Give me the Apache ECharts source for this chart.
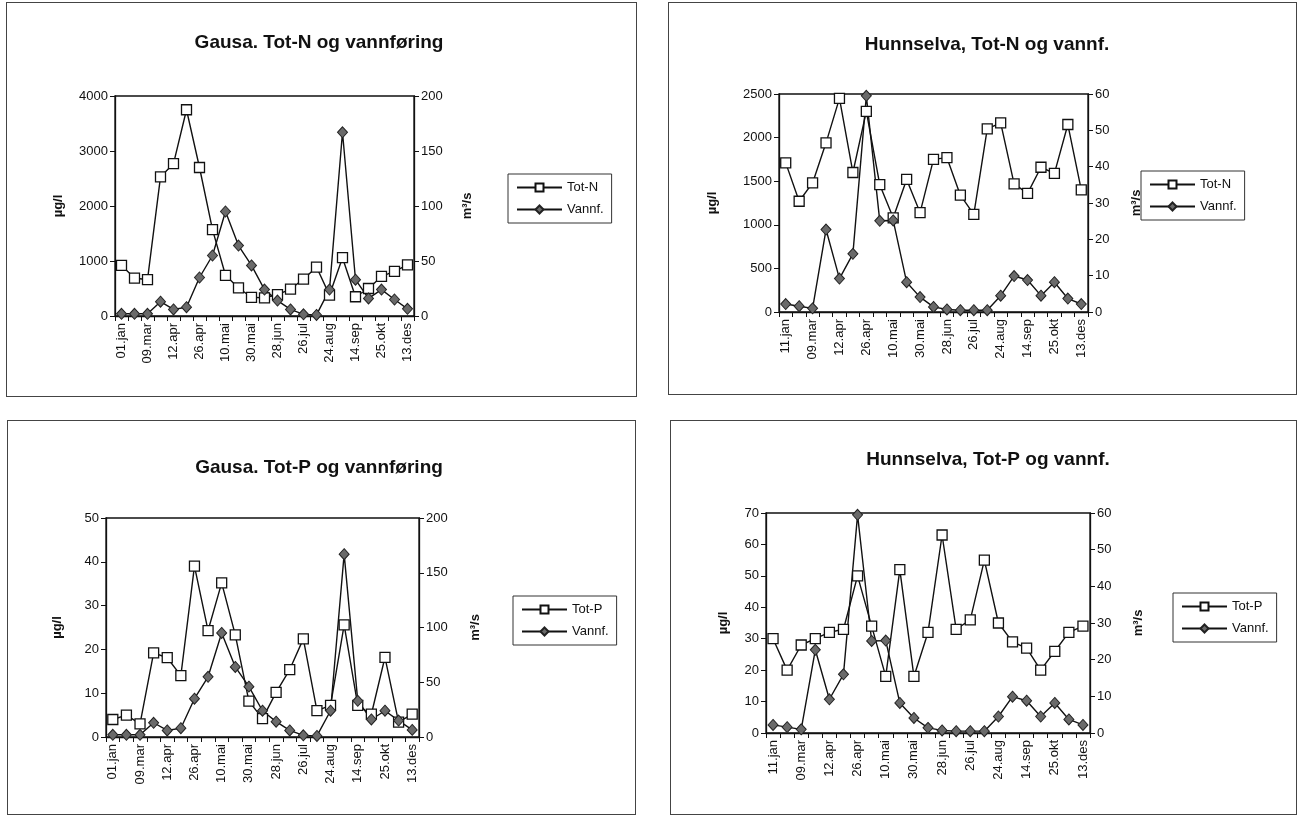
<!DOCTYPE html>
<html>
<head>
<meta charset="utf-8">
<script src="https://cdn.jsdelivr.net/npm/echarts@6/dist/echarts.min.js"></script>
<style>
    html, body {margin:0;padding:0;background:#fff;}
    body {width:1298px;height:819px;position:relative;overflow:hidden;}
    .box {position:absolute;border:1px solid #444;box-sizing:border-box;background:#fff;}
</style>
</head>
<body>
<div class="box" id="c1" style="left:6px;top:2px;width:631px;height:395px;"></div>
<div class="box" id="c2" style="left:668px;top:2px;width:629px;height:393px;"></div>
<div class="box" id="c3" style="left:7px;top:420px;width:629px;height:395px;"></div>
<div class="box" id="c4" style="left:670px;top:420px;width:627px;height:395px;"></div>
<script>
    // sampling dates (only every other one is labelled on the axis)
    var gausaDates = ['01.jan','08.feb','09.mar','29.mar','12.apr','19.apr','26.apr','03.mai','10.mai','17.mai','30.mai','13.jun',
        '28.jun','12.jul','26.jul','09.aug','24.aug','31.aug','14.sep','28.sep','25.okt','08.nov','13.des'];
    var hunnDates = ['11.jan','08.feb','09.mar','29.mar','12.apr','19.apr','26.apr','03.mai','10.mai','17.mai','30.mai','13.jun',
        '28.jun','12.jul','26.jul','09.aug','24.aug','31.aug','14.sep','28.sep','25.okt','08.nov','13.des'];

    // Gausa
    var gausaTotN = [920, 690, 660, 2530, 2770, 3750, 2700, 1570, 740, 510, 340, 330, 390, 490, 670, 890, 380, 1060, 350, 500, 720, 810, 930];
    var gausaTotP = [4, 5, 3, 19.2, 18.1, 14, 39, 24.3, 35.2, 23.3, 8.2, 4.2, 10.2, 15.4, 22.4, 6, 7.2, 25.6, 7.2, 5.2, 18.2, 3.4, 5.2];
    var gausaVannf = [2, 2, 2, 13, 6, 8, 35, 55, 95, 64, 46, 24, 14, 6, 1.5, 1, 24, 167, 33, 16, 24, 15, 6.5];

    // Hunnselva
    var hunnTotN = [1710, 1270, 1480, 1940, 2450, 1600, 2300, 1460, 1080, 1520, 1140, 1750, 1770, 1340, 1120, 2100, 2170, 1470, 1360, 1660, 1590, 2150, 1400];
    var hunnTotP = [30, 20, 28, 30, 32, 33, 50, 34, 18, 52, 18, 32, 63, 33, 36, 55, 35, 29, 27, 20, 26, 32, 34];
    var hunnVannf = [2.2, 1.6, 1, 22.7, 9.2, 16, 59.5, 25.1, 25.2, 8.2, 4.1, 1.4, 0.7, 0.5, 0.5, 0.5, 4.5, 9.9, 8.8, 4.5, 8.2, 3.7, 2.2];

    var FONT = '"Liberation Sans", Arial, sans-serif';

    function yAxis(max, interval, name, gap) {
        return {
            type: 'value', min: 0, max: max, interval: interval,
            name: name, nameLocation: 'middle', nameRotate: 90, nameGap: gap,
            nameTextStyle: {color: '#111', fontSize: 13, fontWeight: 'bold', fontFamily: FONT},
            axisLine: {show: true, lineStyle: {color: '#111', width: 1.3}},
            axisTick: {show: true, inside: false, length: 5, lineStyle: {color: '#111'}},
            splitLine: {show: false},
            axisLabel: {color: '#111', fontSize: 13, fontFamily: FONT, margin: 7,
                formatter: function (v) { return String(v); }}
        };
    }

    // p: grid (page coords), legend pos, title pos
    function makeChart(id, p) {
        var el = document.getElementById(id);
        var bx = el.offsetLeft, by = el.offsetTop;
        var chart = echarts.init(el);
        var option = {
            animation: false,
            title: {
                text: p.title, left: p.titleX - bx, textAlign: 'center', top: p.titleY - by - 15,
                textStyle: {fontSize: 19, fontWeight: 'bold', color: '#111', fontFamily: FONT}
            },
            legend: {
                orient: 'vertical', left: p.legend[0] - bx, top: p.legend[1] - by,
                data: [p.mainName, 'Vannf.'],
                borderColor: '#333', borderWidth: 1, padding: [7, 8, 7, 8],
                itemWidth: 45, itemHeight: 10, itemGap: 9,
                textStyle: {fontSize: 13, color: '#111', fontFamily: FONT}
            },
            grid: {
                left: p.grid[0] - bx, top: p.grid[1] - by, width: p.grid[2], height: p.grid[3],
                show: true, borderColor: '#111', borderWidth: 1.3, backgroundColor: 'transparent'
            },
            xAxis: {
                type: 'category', data: p.dates, boundaryGap: true,
                axisLine: {show: true, lineStyle: {color: '#111', width: 1.3}},
                axisTick: {show: true, interval: 0, length: 5, lineStyle: {color: '#111'}},
                axisLabel: {interval: 1, rotate: 90, color: '#111', fontSize: 13, fontFamily: FONT, margin: 7}
            },
            yAxis: [
                yAxis(p.leftMax, p.leftStep, 'µg/l', p.gaps[0]),
                yAxis(p.rightMax, p.rightStep, 'm³/s', p.gaps[1])
            ],
            series: [
                {
                    name: p.mainName, type: 'line', yAxisIndex: 0, data: p.main,
                    symbol: 'rect', symbolSize: 10, showAllSymbol: true,
                    itemStyle: {color: '#fff', borderColor: '#111', borderWidth: 1.3},
                    lineStyle: {color: '#111', width: 1.4}
                },
                {
                    name: 'Vannf.', type: 'line', yAxisIndex: 1, data: p.vannf,
                    symbol: 'diamond', symbolSize: [10, 11], showAllSymbol: true,
                    itemStyle: {color: '#6a6a6a', borderColor: '#222', borderWidth: 1},
                    lineStyle: {color: '#111', width: 1.4}
                }
            ]
        };
        chart.setOption(option);
        return chart;
    }

    makeChart('c1', {
        title: 'Gausa. Tot-N og vannføring', titleX: 313, titleY: 42,
        grid: [114, 95, 299, 220], legend: [507, 173], gaps: [50, 47],
        dates: gausaDates, mainName: 'Tot-N', main: gausaTotN, vannf: gausaVannf,
        leftMax: 4000, leftStep: 1000, rightMax: 200, rightStep: 50
    });
    makeChart('c2', {
        title: 'Hunnselva, Tot-N og vannf.', titleX: 981, titleY: 44,
        grid: [778, 93, 309, 218], legend: [1140, 170], gaps: [60, 42],
        dates: hunnDates, mainName: 'Tot-N', main: hunnTotN, vannf: hunnVannf,
        leftMax: 2500, leftStep: 500, rightMax: 60, rightStep: 10
    });
    makeChart('c3', {
        title: 'Gausa. Tot-P og vannføring', titleX: 313, titleY: 467,
        grid: [105, 517, 313, 219], legend: [512, 595], gaps: [42, 50],
        dates: gausaDates, mainName: 'Tot-P', main: gausaTotP, vannf: gausaVannf,
        leftMax: 50, leftStep: 10, rightMax: 200, rightStep: 50
    });
    makeChart('c4', {
        title: 'Hunnselva, Tot-P og vannf.', titleX: 982, titleY: 459,
        grid: [765, 512, 324, 220], legend: [1172, 592], gaps: [36, 42],
        dates: hunnDates, mainName: 'Tot-P', main: hunnTotP, vannf: hunnVannf,
        leftMax: 70, leftStep: 10, rightMax: 60, rightStep: 10
    });
</script>
</body>
</html>
